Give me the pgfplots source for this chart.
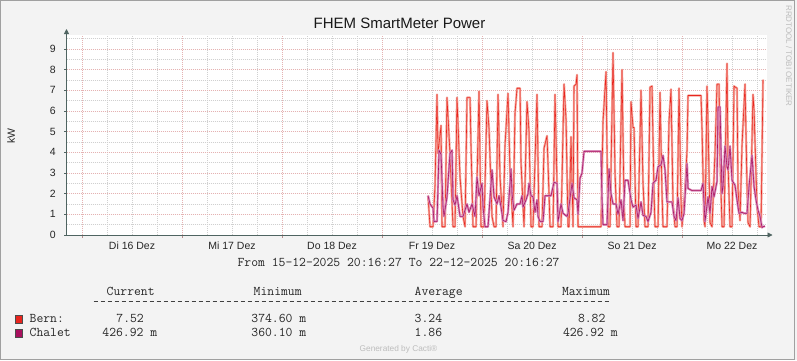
\documentclass[border=0pt]{standalone}
\usepackage{pgfplots}
\pgfplotsset{compat=1.18}
\usepackage{pgfplotstable}
\usepackage{fontspec}
\setmainfont{Liberation Sans}
\usetikzlibrary{arrows.meta}
\definecolor{canvas}{HTML}{F3F3F3}
\definecolor{bern}{HTML}{E8251E}
\definecolor{bernlight}{HTML}{F5A59A}
\definecolor{chalet}{HTML}{A8105E}
\definecolor{chaletlight}{HTML}{D98AB8}
\definecolor{mgrid}{HTML}{E5B2B2}
\definecolor{ngrid}{HTML}{D0D0D0}
\definecolor{axiscol}{HTML}{4F6461}
\definecolor{framecol}{HTML}{A0A0A0}
\definecolor{wm}{HTML}{BDBDBD}

% x = day of December 2025 (fractional), y = kW
\pgfplotstableread{
x y
19.46 1.9
19.48 0.4
19.51 0.4
19.53 2.4
19.55 6.8
19.56 3.95
19.59 5.3
19.60 0.4
19.63 0.4
19.65 6.65
19.68 3.9
19.71 0.4
19.73 0.4
19.75 6.65
19.78 2.8
19.81 0.9
19.83 0.4
19.85 6.65
19.88 6.65
19.89 4.3
19.91 0.4
19.94 0.4
19.97 6.95
19.99 0.4
20.02 0.4
20.05 6.5
20.07 5.15
20.10 0.9
20.12 0.4
20.14 0.4
20.16 6.8
20.18 2.8
20.21 0.4
20.23 4.35
20.26 6.85
20.28 3.0
20.31 0.4
20.33 5.9
20.35 7.1
20.38 7.1
20.39 3.5
20.42 0.4
20.45 6.45
20.47 5.0
20.49 0.4
20.51 0.4
20.55 6.8
20.57 0.4
20.60 0.4
20.62 4.2
20.65 4.8
20.67 2.0
20.68 0.4
20.71 0.4
20.73 6.8
20.75 2.5
20.76 0.4
20.79 0.4
20.82 7.3
20.84 5.6
20.86 0.4
20.87 0.4
20.89 4.75
20.91 0.4
20.92 7.2
20.94 7.3
20.95 7.75
20.96 0.4
21.19 0.4
21.21 5.5
21.24 7.9
21.26 0.4
21.28 0.4
21.31 8.82
21.33 3.0
21.35 0.4
21.37 0.4
21.40 8.0
21.42 1.5
21.43 0.4
21.48 0.4
21.49 6.45
21.51 5.2
21.52 5.2
21.54 0.4
21.56 0.4
21.59 7.0
21.61 2.5
21.63 0.4
21.66 0.4
21.68 7.15
21.70 7.2
21.72 2.0
21.73 0.4
21.76 0.4
21.78 6.9
21.80 2.0
21.81 0.4
21.85 0.4
21.87 5.5
21.89 7.05
21.91 1.5
21.93 0.4
21.95 0.4
21.97 7.1
21.99 1.7
22.00 0.4
22.03 2.2
22.05 4.1
22.06 6.75
22.19 6.75
22.20 5.1
22.22 0.7
22.23 0.4
22.25 7.2
22.26 5.4
22.28 0.6
22.30 0.4
22.33 4.0
22.35 7.3
22.37 7.3
22.38 3.8
22.40 0.4
22.42 0.4
22.45 8.3
22.46 3.45
22.48 0.4
22.50 0.4
22.52 7.2
22.55 7.1
22.56 2.2
22.58 0.7
22.60 4.35
22.63 7.3
22.65 2.35
22.66 0.6
22.68 0.4
22.71 6.8
22.72 6.05
22.75 1.35
22.77 0.4
22.79 0.4
22.81 7.52
}\bern

\pgfplotstableread{
x y
19.46 1.9
19.48 1.5
19.51 1.3
19.52 0.65
19.55 0.65
19.57 4.1
19.59 3.9
19.61 1.35
19.62 0.9
19.65 1.85
19.68 3.95
19.70 4.1
19.71 1.7
19.73 1.45
19.75 1.9
19.78 0.9
19.81 0.9
19.85 1.5
19.87 1.1
19.90 1.5
19.93 0.9
19.95 2.8
19.97 1.9
20.00 2.5
20.01 1.35
20.03 0.4
20.06 0.4
20.10 3.15
20.12 1.85
20.15 1.5
20.17 1.9
20.19 1.35
20.21 0.7
20.24 0.65
20.26 1.1
20.29 3.2
20.30 2.0
20.32 1.2
20.35 1.5
20.38 1.5
20.40 1.9
20.41 1.35
20.44 1.7
20.46 2.0
20.47 2.5
20.49 1.9
20.51 1.85
20.53 1.1
20.55 1.7
20.56 0.9
20.58 0.65
20.61 0.65
20.63 1.9
20.69 1.9
20.72 2.55
20.75 2.5
20.76 0.65
20.79 1.5
20.81 1.05
20.85 0.9
20.86 1.05
20.90 2.5
20.92 1.8
20.95 1.7
20.96 1.0
20.98 2.75
21.00 3.0
21.02 4.05
21.19 4.05
21.20 1.7
21.21 0.5
21.25 0.5
21.27 3.2
21.29 2.0
21.31 1.5
21.34 1.5
21.36 1.0
21.39 1.7
21.41 0.7
21.43 2.65
21.46 2.65
21.49 1.7
21.51 1.35
21.54 1.45
21.56 0.8
21.59 1.6
21.61 0.95
21.64 0.9
21.66 0.65
21.69 1.1
21.71 2.5
21.74 2.65
21.76 3.3
21.79 3.4
21.81 3.85
21.83 3.15
21.85 1.6
21.90 1.6
21.92 0.9
21.94 0.7
21.96 1.8
21.98 0.8
22.00 0.7
22.02 1.05
22.05 3.45
22.06 2.25
22.10 2.15
22.19 2.15
22.21 2.5
22.23 0.65
22.26 1.85
22.28 1.05
22.30 2.35
22.32 1.85
22.35 2.6
22.36 6.2
22.38 6.2
22.40 2.0
22.41 2.35
22.43 4.3
22.45 3.3
22.46 3.15
22.48 4.3
22.50 2.65
22.53 2.4
22.56 1.35
22.57 1.05
22.60 1.1
22.62 1.05
22.65 1.05
22.67 2.35
22.70 3.85
22.72 2.35
22.74 1.7
22.76 1.2
22.78 0.9
22.80 0.36
22.81 0.4
22.83 0.427
}\chalet

\newcommand\mono{\ttfamily\fontsize{13.3}{15}\selectfont}

\begin{document}
\begin{tikzpicture}[x=1pt,y=1pt]
\path[use as bounding box] (0,0) rectangle (797,360);
\fill[canvas] (0,0) rectangle (797,360);
\draw[framecol, line width=1pt] (0.5,0.5) rectangle (794.5,359.5);

\begin{axis}[
  at={(66.5pt,125pt)}, anchor=south west, scale only axis,
  width=700pt, height=200pt,
  xmin=15.8448, xmax=22.8448, ymin=0, ymax=9.676,
  axis background/.style={fill=white},
  axis x line=bottom, axis y line=left,
  axis line style={axiscol, line width=0.8pt, -{Triangle[length=5pt,width=5pt]}, shorten >=-6pt},
  tick align=outside,
  major tick length=2.5pt, minor tick length=0pt,
  tick style={axiscol, line width=0.6pt},
  xtick style={mgrid!80!black},
  xtick={16,17,...,22},
  xticklabels={,,,,,,},
  minor xtick={16.25,16.5,16.75,17.25,17.5,17.75,18.25,18.5,18.75,19.25,19.5,19.75,20.25,20.5,20.75,21.25,21.5,21.75,22.25,22.5,22.75},
  ytick={0,1,...,9},
  minor ytick={0.5,1.5,...,9.5},
  grid=both,
  major grid style={mgrid, dash pattern=on 1pt off 1pt, line width=0.6pt},
  minor grid style={ngrid, dash pattern=on 1pt off 1pt, line width=0.6pt},
  extra x ticks={16.5,17.5,18.5,19.5,20.5,21.5,22.5},
  extra x tick labels={Di 16 Dez,Mi 17 Dez,Do 18 Dez,Fr 19 Dez,Sa 20 Dez,So 21 Dez,Mo 22 Dez},
  extra x tick style={grid=none, major tick length=0pt},
  tick label style={font=\fontsize{10.5}{12}\selectfont, text=black!85},
  xticklabel style={anchor=base, yshift=-14.3pt},
  yticklabel style={anchor=east, inner sep=0pt, xshift=-8pt},
  /pgf/number format/assume math mode=true,
]
\addplot[bernlight, line width=2.2pt, line join=round, no markers] table {\bern};
\addplot[bern, line width=0.55pt, line join=round, no markers] table {\bern};
\addplot[chaletlight, line width=2.2pt, line join=round, no markers] table {\chalet};
\addplot[chalet, line width=0.55pt, line join=round, no markers] table {\chalet};
\end{axis}

% title and axis title
\node[anchor=base, inner sep=0pt, font=\fontsize{15}{17}\selectfont, text=black!90] at (399.5,332) {FHEM SmartMeter Power};
\node[rotate=90, inner sep=0pt, font=\fontsize{10.5}{12}\selectfont, text=black!85] at (11,224) {kW};
% watermark
\node[rotate=-90, inner sep=0pt, font=\fontsize{8}{9}\selectfont, text=wm] at (789,304) {RRDTOOL / TOBI OETIKER};

% time range
\node[anchor=base, inner sep=0pt, font=\mono, text=black!85] at (398.5,93.3) {From 15-12-2025 20:16:27 To 22-12-2025 20:16:27};

% legend table
\begin{scope}[every node/.style={anchor=base west, inner sep=0pt, font=\mono, text=black!85}]
\node at (106.5,65) {Current};
\node at (253.5,65) {Minimum};
\node at (414.5,65) {Average};
\node at (561.8,65) {Maximum};
\node at (29.5,37.3) {Bern:};
\node at (116.2,37.3) {7.52};
\node at (251.2,37.3) {374.60 m};
\node at (414.5,37.3) {3.24};
\node at (577.8,37.3) {8.82};
\node at (29.5,23.3) {Chalet};
\node at (102.2,23.3) {426.92 m};
\node at (251.2,23.3) {360.10 m};
\node at (414.5,23.3) {1.86};
\node at (562.8,23.3) {426.92 m};
\end{scope}
% separator row of dashes
\draw[black!75, line width=0.7pt, dash pattern=on 4pt off 3pt] (93.5,58.8) -- (610.5,58.8);
\draw[fill=bern, draw=black!70, line width=0.8pt] (15.4,36.2) rectangle (22.6,44.6);
\draw[fill=chalet, draw=black!70, line width=0.8pt] (15.4,22.2) rectangle (22.6,30.6);

\node[anchor=base, inner sep=0pt, font=\fontsize{8.3}{9}\selectfont, text=wm] at (398.5,8.5) {Generated by Cacti®};
\end{tikzpicture}
\end{document}
